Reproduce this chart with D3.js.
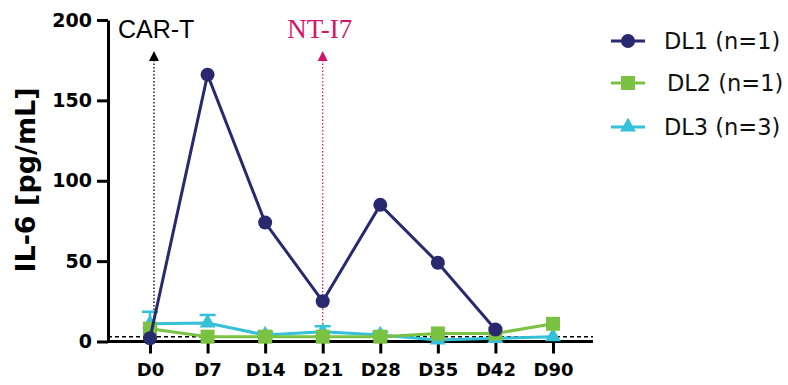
<!DOCTYPE html>
<html>
<head>
<meta charset="utf-8">
<script src="https://cdn.jsdelivr.net/npm/d3@7"></script>
<style>
  body { margin: 0; background: #fff; }
  text { font-family: "DejaVu Sans", Verdana, sans-serif; }
</style>
</head>
<body>
<div id="chart"></div>
<script>
var days = ["D0", "D7", "D14", "D21", "D28", "D35", "D42", "D90"];
var dl1 = [2, 166, 74, 25, 85, 49, 7.5, null];
var dl2 = [8, 3, 3, 3, 3, 5, 5, 11];
var dl3 = [11, 11.5, 4, 6, 4, 1, 2, 3];
var dl3Err = [7.5, 5, 2, 3.5, 2, 0, 0, 0];
var yTicks = [0, 50, 100, 150, 200];
var seriesNames = ["DL1 (n=1)", "DL2 (n=1)", "DL3 (n=3)"];
var seriesColors = ["#28296e", "#7cc242", "#36c0d9"];

var svgWidth = 788, svgHeight = 385;
var margin = {top: 20, right: 195, bottom: 44, left: 108};
var width = 593 - margin.left;
var height = 341.5 - margin.top;

var svg = d3.select("#chart").append("svg")
  .attr("width", svgWidth)
  .attr("height", svgHeight);

var g = svg.append("g")
  .attr("transform", `translate(${margin.left}, ${margin.top})`);

var x = d3.scalePoint().domain(days).range([42, 445]);
var y = d3.scaleLinear().domain([0, 200]).range([height, 0]);

// baseline dashed line (detection limit)
g.append("line")
  .attr("x1", 0).attr("x2", width)
  .attr("y1", y(3)).attr("y2", y(3))
  .attr("stroke", "#000").attr("stroke-width", 1.4)
  .attr("stroke-dasharray", "4,3");

// axes
var xAxis = g.append("g")
  .attr("transform", `translate(0, ${height})`)
  .call(d3.axisBottom(x).tickSize(12).tickSizeOuter(0).tickPadding(10));
xAxis.select(".domain").attr("stroke-width", 3).attr("d", `M0,0H${width}`);
xAxis.selectAll(".tick line").attr("stroke-width", 3);
xAxis.selectAll("text").attr("font-size", 18).attr("font-weight", "bold").attr("fill", "#000");

var yAxis = g.append("g")
  .call(d3.axisLeft(y).tickValues(yTicks).tickSize(11).tickSizeOuter(0).tickPadding(5));
yAxis.select(".domain").attr("stroke-width", 3);
yAxis.selectAll(".tick line").attr("stroke-width", 3);
yAxis.selectAll("text").attr("font-size", 19).attr("font-weight", "bold").attr("fill", "#000");

svg.append("text")
  .attr("transform", `translate(35, 180) rotate(-90)`)
  .attr("text-anchor", "middle")
  .attr("font-size", 27).attr("font-weight", "bold")
  .text("IL-6 [pg/mL]");

// annotations
var annots = [
  {day: "D0", dx: 4, label: "CAR-T", color: "#000", font: "Arial, 'Liberation Sans', sans-serif", size: 25, anchor: "start"},
  {day: "D21", dx: 0, label: "NT-I7", color: "#d4146a", font: "'Liberation Serif', 'DejaVu Serif', serif", size: 27, anchor: "middle"}
];
annots.forEach(a => {
  var ax = x(a.day) + a.dx;
  g.append("line")
    .attr("x1", ax).attr("x2", ax)
    .attr("y1", y(200) + 40).attr("y2", height)
    .attr("stroke", a.color).attr("stroke-width", 1.3)
    .attr("stroke-dasharray", "1.5,2");
  g.append("path")
    .attr("d", `M${ax},${y(200) + 31}L${ax - 5},${y(200) + 41}L${ax + 5},${y(200) + 41}Z`)
    .attr("fill", a.color);
  g.append("text")
    .attr("x", a.anchor === "start" ? 10 : ax - 3)
    .attr("y", 18)
    .attr("text-anchor", a.anchor)
    .style("font-family", a.font)
    .attr("font-size", a.size)
    .attr("fill", a.color)
    .text(a.label);
});

var line = d3.line()
  .defined(d => d != null)
  .x((d, i) => x(days[i]))
  .y(d => y(d));

// DL3 error bars
dl3.forEach((v, i) => {
  if (!dl3Err[i]) return;
  var cx = x(days[i]);
  g.append("line").attr("x1", cx).attr("x2", cx)
    .attr("y1", y(v)).attr("y2", y(v + dl3Err[i]))
    .attr("stroke", seriesColors[2]).attr("stroke-width", 2.5);
  g.append("line").attr("x1", cx - 8).attr("x2", cx + 8)
    .attr("y1", y(v + dl3Err[i])).attr("y2", y(v + dl3Err[i]))
    .attr("stroke", seriesColors[2]).attr("stroke-width", 2.5);
});

var allSeries = [dl3, dl2, dl1];
var colorsBy = [seriesColors[2], seriesColors[1], seriesColors[0]];
var shapes = ["triangle", "square", "circle"];

function drawMarker(sel, shape, color, cx, cy) {
  if (shape === "circle") {
    sel.append("circle").attr("cx", cx).attr("cy", cy).attr("r", 7).attr("fill", color);
  } else if (shape === "square") {
    sel.append("rect").attr("x", cx - 7).attr("y", cy - 7).attr("width", 14).attr("height", 14).attr("fill", color);
  } else {
    sel.append("path")
      .attr("d", d3.symbol().type(d3.symbolTriangle).size(110)())
      .attr("transform", `translate(${cx},${cy})`)
      .attr("fill", color);
  }
}

allSeries.forEach((s, k) => {
  g.append("path")
    .datum(s)
    .attr("d", line)
    .attr("fill", "none")
    .attr("stroke", colorsBy[k])
    .attr("stroke-width", 3);
  s.forEach((v, i) => {
    if (v == null) return;
    drawMarker(g, shapes[k], colorsBy[k], x(days[i]), y(v));
  });
});

// legend
var legend = svg.append("g").attr("transform", "translate(611, 41)");
var legShapes = ["circle", "square", "triangle"];
var legRowY = [0, 42, 86];
seriesNames.forEach((name, i) => {
  var row = legend.append("g").attr("transform", `translate(0, ${legRowY[i]})`);
  row.append("line").attr("x1", 0).attr("x2", 34).attr("y1", 0).attr("y2", 0)
    .attr("stroke", seriesColors[i]).attr("stroke-width", 3);
  drawMarker(row, legShapes[i], seriesColors[i], 17, 0);
  row.append("text")
    .attr("x", 53 + (i === 1 ? 3 : 0)).attr("y", 8)
    .attr("font-size", 22.5)
    .attr("fill", "#111")
    .text(name);
});
</script>
</body>
</html>
